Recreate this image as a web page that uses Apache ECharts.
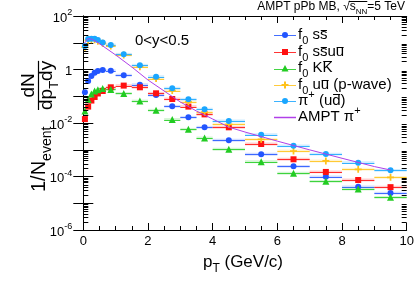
<!DOCTYPE html>
<html><head><meta charset="utf-8">
<script src="https://cdn.jsdelivr.net/npm/echarts@6/dist/echarts.min.js"></script>
<style>html,body{margin:0;padding:0;background:#fff}#c{width:415px;height:281px}</style>
</head><body><div id="c"></div>
<script>
// ---------------- data ----------------
const pt   = [0.05,0.15,0.25,0.35,0.45,0.6,0.85,1.25,1.75,2.25,2.75,3.25,3.75,4.5,5.5,6.5,7.5,8.5,9.5];
const ptLo = [0,0.1,0.2,0.3,0.4,0.5,0.7,1.0,1.5,2.0,2.5,3.0,3.5,4,5,6,7,8,9];
const ptHi = [0.1,0.2,0.3,0.4,0.5,0.7,1.0,1.5,2.0,2.5,3.0,3.5,4,5,6,7,8,9,10];
const f0ss   = [0.14,0.37,0.57,0.76,0.88,0.96,0.9,0.61,0.27,0.111,0.042,0.0163,0.0069,0.00226,6.8e-4,2.4e-4,9.7e-5,4.1e-5,2.4e-5];
const f0ssuu = [0.014,0.041,0.069,0.094,0.127,0.157,0.216,0.25,0.216,0.129,0.079,0.041,0.021,0.0069,0.00164,4.4e-4,1.48e-4,7.4e-5,4.0e-5];
const f0KK   = [0.028,0.076,0.121,0.157,0.176,0.195,0.179,0.127,0.066,0.030,0.0135,0.0058,0.00275,0.00104,3.57e-4,1.32e-4,6.6e-5,3.4e-5,1.66e-5];
const f0uu   = [6.8,12.5,13,13,11.5,9.5,7.6,3.48,1.27,0.46,0.164,0.061,0.025,0.0089,0.00245,8.97e-4,3.8e-4,1.86e-4,9.3e-5];
const piPlus = [7.6,13.8,14,14,12.6,10.2,8.3,3.7,1.44,0.54,0.2,0.077,0.033,0.0119,0.00366,0.0014,6.9e-4,3.3e-4,1.7e-4];
const amptPt = [0.03,0.15,0.25,0.4,0.6,1.0,1.5,2.0,2.5,3.0,3.5,4.0,4.5,5.0,6.0,7.0,8.0,9.0,9.5];
const amptPi = [9.5,14.4,13.8,11.1,7.6,3.5,1.24,0.405,0.157,0.061,0.028,0.0141,0.0070,0.0046,0.0021,9.9e-4,4.8e-4,2.35e-4,1.75e-4];
const xTicks = [0,2,4,6,8,10];
const yDecades = [-6,-5,-4,-3,-2,-1,0,1,2];

// ---------------- helpers ----------------
const FF = '"Liberation Sans", Arial, Helvetica, sans-serif';
const mctx = document.createElement('canvas').getContext('2d');
function tw(t, s){ mctx.font = s + 'px ' + FF; return mctx.measureText(t).width; }
function runsEls(runs, x0, base, size, color){
  const els = []; let x = x0; const pos = [];
  for (const r of runs){
    let s = size, dy = 0;
    if (r.sub){ s = Math.round(size*0.7); dy = size*0.3; }
    if (r.sup){ s = Math.round(size*0.7); dy = -size*0.45; }
    const w = tw(r.t, s);
    els.push({type:'text', x:x, y:base+dy-0.35*s,
      style:{text:r.t, font:s+'px '+FF, fill:color, textAlign:'left', textVerticalAlign:'middle', verticalAlign:'middle'}});
    if (r.over){
      const yy = Math.round(base - (r.oh||0.64)*size) + 0.5;
      els.push({type:'line', shape:{x1:x+0.8, y1:yy, x2:x+w-0.5, y2:yy}, style:{stroke:color, lineWidth:1}});
    }
    pos.push([x, x+w]);
    x += w;
  }
  return {els, width:x-x0, pos};
}
function runsWidth(runs,size){ return runsEls(runs,0,0,size,'#000').width; }

const COL = {ss:'#2255ff', ssuu:'#ff1111', KK:'#22cc22', uu:'#ffc21a', pi:'#1aa6ff', ampt:'#b040e8'};
const PLUS = 'path://M3,0H5V3H8V5H5V8H3V5H0V3H3Z';

function errSeries(vals, color, z){
  return {type:'custom', z:z, silent:true, clip:false,
    data: vals.map((v,i)=>[ptLo[i], ptHi[i], v]),
    encode:{x:[0,1], y:2},
    renderItem:(p, api)=>{
      const v = api.value(2);
      const a = api.coord([api.value(0), v]);
      const b = api.coord([api.value(1), v]);
      const t = api.coord([api.value(0), v*1.13])[1];
      const bt = api.coord([api.value(0), v/1.13])[1];
      const yy = Math.round(a[1])+0.5;
      return {type:'group', children:[
        {type:'rect', shape:{x:a[0], y:t, width:b[0]-a[0], height:bt-t}, style:{fill:color, opacity:0.2}},
        {type:'line', shape:{x1:a[0], y1:yy, x2:b[0], y2:yy}, style:{stroke:color, lineWidth:1, opacity:0.85}}
      ]};
    }};
}
function markSeries(name, vals, color, symbol, size, z){
  return {type:'scatter', name:name, z:z, symbol:symbol, symbolSize:size,
    data: vals.map((v,i)=>[pt[i], v]),
    itemStyle:{color:color, opacity:1, borderWidth:0}, silent:true};
}

// minor log ticks
const yMinor = [];
for (let n=-6;n<2;n++) for (let k=2;k<10;k++) yMinor.push(k*Math.pow(10,n));

// ---------------- chart ----------------
const chart = echarts.init(document.getElementById('c'), null, {renderer:'canvas'});
const axisLineStyle = {show:true, lineStyle:{color:'#000', width:1}};
const supFmt = v => {
  const e = Math.round(Math.log10(v));
  if (e % 2 !== 0) return '';
  if (e === 0) return '{b|1}';
  return '{b|10}{s|' + e + '}';
};
const option = {
  animation:false,
  backgroundColor:'#fff',
  grid:{left:83.3, right:8.3, top:16, bottom:51, containLabel:false, outerBoundsMode:'none'},
  xAxis:[
    {type:'value', min:0, max:10, interval:2, position:'bottom',
     axisLine:axisLineStyle, splitLine:{show:false},
     axisTick:{show:true, inside:true, length:7, lineStyle:{color:'#000'}},
     minorTick:{show:true, splitNumber:4, length:4, lineStyle:{color:'#000'}},
     axisLabel:{show:true, color:'#000', fontSize:13, fontFamily:FF, margin:5,
       formatter:v=> xTicks.indexOf(v)>=0 ? String(v) : ''}},
    {type:'value', min:0, max:10, interval:2, position:'top',
     axisLine:axisLineStyle, splitLine:{show:false},
     axisTick:{show:true, inside:true, length:7, lineStyle:{color:'#000'}},
     minorTick:{show:true, splitNumber:4, length:4, lineStyle:{color:'#000'}},
     axisLabel:{show:false}}
  ],
  yAxis:[
    {type:'log', logBase:10, min:Math.pow(10,yDecades[0]), max:Math.pow(10,yDecades[yDecades.length-1]), interval:1, position:'left',
     axisLine:axisLineStyle, splitLine:{show:false},
     axisTick:{show:true, inside:true, length:10, lineStyle:{color:'#000'}},
     minorTick:{show:false},
     axisLabel:{show:true, color:'#000', fontFamily:FF, margin:11, padding:[4,0,0,0], formatter:supFmt,
       rich:{b:{fontSize:13, fontFamily:FF, color:'#000', lineHeight:13, verticalAlign:'bottom'},
             s:{fontSize:9, fontFamily:FF, color:'#000', lineHeight:9, padding:[0,0,7,0], verticalAlign:'bottom'}}}},
    {type:'log', logBase:10, min:Math.pow(10,yDecades[0]), max:Math.pow(10,yDecades[yDecades.length-1]), interval:1, position:'right',
     axisLine:axisLineStyle, splitLine:{show:false},
     axisTick:{show:true, inside:true, length:10, lineStyle:{color:'#000'}},
     minorTick:{show:false}, axisLabel:{show:false}}
  ],
  series:[
    {type:'custom', silent:true, clip:false, z:10, data:yMinor.map(v=>[0,v]), encode:{x:0,y:1},
     renderItem:(p,api)=>{
       const v = api.value(1);
       const a = api.coord([0, v]); const b = api.coord([10, v]);
       const yy = Math.round(a[1])+0.5;
       return {type:'group', children:[
         {type:'line', shape:{x1:a[0], y1:yy, x2:a[0]+5, y2:yy}, style:{stroke:'#000', lineWidth:1}},
         {type:'line', shape:{x1:b[0], y1:yy, x2:b[0]-5, y2:yy}, style:{stroke:'#000', lineWidth:1}}]};
     }},
    errSeries(f0ss, COL.ss, 2), markSeries('f0 ss', f0ss, COL.ss, 'circle', 6, 3),
    errSeries(f0ssuu, COL.ssuu, 2), markSeries('f0 ssuu', f0ssuu, COL.ssuu, 'rect', 6, 3),
    errSeries(f0KK, COL.KK, 2), markSeries('f0 KK', f0KK, COL.KK, 'triangle', 7, 3),
    errSeries(f0uu, COL.uu, 2), markSeries('f0 uu (p-wave)', f0uu, COL.uu, PLUS, 7, 3),
    errSeries(piPlus, COL.pi, 2), markSeries('pi+', piPlus, COL.pi, 'circle', 6, 3),
    {type:'line', name:'AMPT pi+', z:4, silent:true, showSymbol:false, symbol:'none', smooth:false,
     data: amptPt.map((x,i)=>[x, amptPi[i]]), lineStyle:{color:COL.ampt, width:1}}
  ]
};
chart.setOption(option);

// ---------------- text / legend graphics ----------------
const G = [];
// legend
const legY = [35,52,68.5,85,101,117];
const legRuns = [
  [{t:'f'},{t:'0',sub:1},{t:' s'},{t:'s',over:1}],
  [{t:'f'},{t:'0',sub:1},{t:' s'},{t:'s',over:1},{t:'u'},{t:'u',over:1}],
  [{t:'f'},{t:'0',sub:1},{t:' K'},{t:'K',over:1,oh:0.82}],
  [{t:'f'},{t:'0',sub:1},{t:' u'},{t:'u',over:1},{t:' (p-wave)'}],
  [{t:'\u03c0'},{t:'+',sup:1},{t:' (u'},{t:'d',over:1,oh:0.82},{t:')'}],
  [{t:'AMPT \u03c0'},{t:'+',sup:1}]
];
const legCols = [COL.ss, COL.ssuu, COL.KK, COL.uu, COL.pi, COL.ampt];
for (let i=0;i<6;i++){
  const yc = legY[i], c = legCols[i];
  const yl = Math.round(yc)+0.5;
  G.push({type:'line', shape:{x1:274, y1:yl, x2:296, y2:yl}, style:{stroke:c, lineWidth: i===5?1.5:1, opacity: i===5?1:0.85}});
  const mx = 285;
  if (i===0 || i===4) G.push({type:'circle', shape:{cx:mx, cy:yc, r:3}, style:{fill:c}});
  if (i===1) G.push({type:'rect', shape:{x:mx-3, y:yc-3, width:6, height:6}, style:{fill:c}});
  if (i===2) G.push({type:'polygon', shape:{points:[[mx,yc-3.5],[mx+3.5,yc+3],[mx-3.5,yc+3]]}, style:{fill:c}});
  if (i===3) G.push({type:'polygon', shape:{points:[[mx-1,yc-3.5],[mx+1,yc-3.5],[mx+1,yc-1],[mx+3.5,yc-1],[mx+3.5,yc+1],[mx+1,yc+1],[mx+1,yc+3.5],[mx-1,yc+3.5],[mx-1,yc+1],[mx-3.5,yc+1],[mx-3.5,yc-1],[mx-1,yc-1]]}, style:{fill:c}});
  const r = runsEls(legRuns[i], 298, yc+5, 15, '#000');
  G.push(...r.els);
}
// rapidity label
G.push(...runsEls([{t:'0<y<0.5'}], 135, 46, 15, '#000').els);
// top-right label
const topRuns = [{t:'AMPT pPb MB, '},{t:'\u221a'},{t:'s'},{t:'NN',sub:1},{t:'=5 TeV'}];
const topW = runsWidth(topRuns, 12);
const topR = runsEls(topRuns, 405-topW, 11, 12, '#000');
G.push(...topR.els);
G.push({type:'line', shape:{x1:topR.pos[1][1]-1, y1:1.5, x2:topR.pos[3][1], y2:1.5}, style:{stroke:'#000', lineWidth:1}});
// x title
const xtRuns = [{t:'p'},{t:'T',sub:1},{t:' (GeV/c)'}];
const xtW = runsWidth(xtRuns, 17);
G.push(...runsEls(xtRuns, 243-xtW/2, 268, 17, '#000').els);
// y title (rotated, reads bottom to top)
const yt = [];
const r1 = runsEls([{t:'1/N'},{t:'event',sub:1}], -192, 46, 20, '#000');
yt.push(...r1.els);
const numR = [{t:'dN'}], denR = [{t:'dp'},{t:'T',sub:1},{t:'dy'}];
const fs = 19;
const dW = runsWidth(denR, fs), nW = runsWidth(numR, fs);
const fx0 = -110;
yt.push(...runsEls(numR, fx0 + (dW-nW)/2, 35, fs, '#000').els);
yt.push({type:'line', shape:{x1:fx0, y1:38.5, x2:fx0+dW, y2:38.5}, style:{stroke:'#000', lineWidth:1.2}});
yt.push(...runsEls(denR, fx0, 53, fs, '#000').els);
G.push({type:'group', x:0, y:0, rotation:Math.PI/2, children:yt});

chart.setOption({graphic:{elements:G}});
</script></body></html>
